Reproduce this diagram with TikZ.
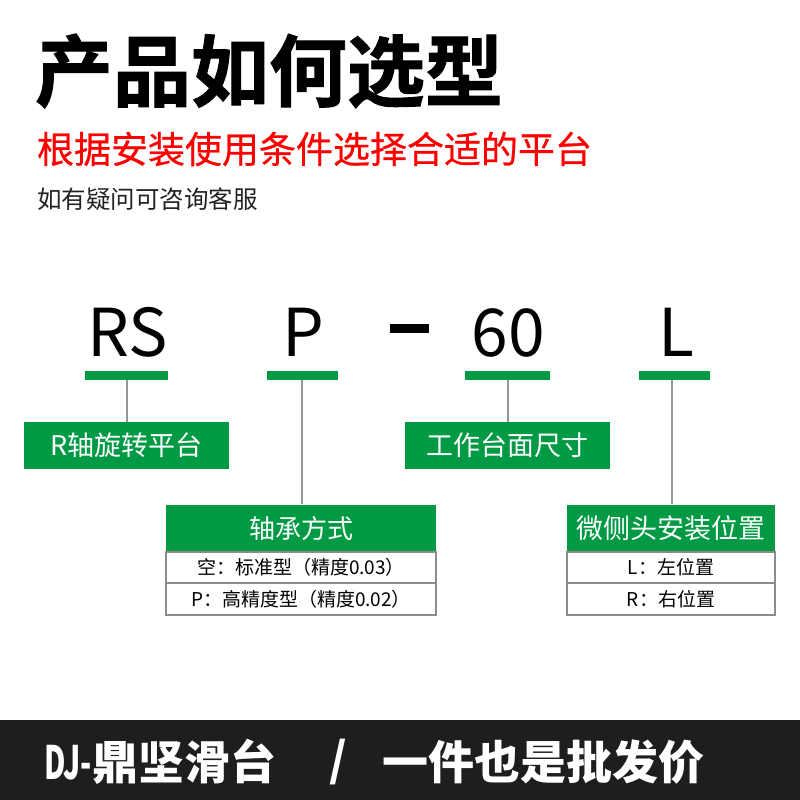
\documentclass[tikz,border=0pt]{standalone}
\usepackage{fontspec}
\setmainfont{Noto Sans CJK SC}
\newfontfamily\cjk{Noto Sans CJK SC}
\newfontfamily\cjkmed[FakeBold=0.6]{Noto Sans CJK SC}
\newfontfamily\cjkheavy[FakeBold=1.2]{Noto Sans CJK SC Bold}
\definecolor{dgreen}{RGB}{0,153,68}
\definecolor{lgray}{RGB}{150,150,150}
\definecolor{bgray}{RGB}{140,140,140}
\definecolor{footbg}{RGB}{30,30,30}
\definecolor{sred}{RGB}{255,0,0}
\definecolor{txtdark}{RGB}{34,34,34}
\begin{document}
\begin{tikzpicture}[x=1pt,y=-1pt,
  every node/.style={inner sep=0pt, outer sep=0pt},
  bar/.style={fill=dgreen, minimum height=9pt},
  gbox/.style={fill=dgreen, text=white, font=\cjk\fontsize{27}{27}\selectfont},
  rowbox/.style={draw=bgray, line width=2pt, fill=white, font=\cjk\fontsize{19}{19}\selectfont, text=black},
  conn/.style={draw=lgray, line width=2pt},
  code/.style={anchor=base, font=\cjk\fontsize{66}{66}\selectfont, text=black},
  foot/.style={text=white, font=\cjk\bfseries\fontsize{46}{46}\selectfont}]
\useasboundingbox (0,0) rectangle (800,800);
\fill[white] (0,0) rectangle (800,800);

% titles
\node[anchor=west, font=\cjkheavy\fontsize{78}{78}\selectfont] (title) at (35,71) {产品如何选型};
\node[anchor=west, text=sred, font=\cjkmed\fontsize{37}{37}\selectfont] (sub) at (37,149) {根据安装使用条件选择合适的平台};
\node[anchor=west, text=txtdark, font=\cjk\fontsize{24.5}{24.5}\selectfont] (ask) at (37,199) {如有疑问可咨询客服};

% model code
\node[code] (cRS) at (127.5,356) {RS};
\node[code] (cP) at (303,356) {P};
\node[fill=black, minimum width=39pt, minimum height=9pt] (cdash) at (409.5,328.5) {};
\node[code] (c60) at (508,356) {60};
\node[code] (cL) at (676,356) {L};

% green bars
\node[bar, minimum width=83pt] (b1) at (126.5,375.5) {};
\node[bar, minimum width=71pt] (b2) at (302.5,375.5) {};
\node[bar, minimum width=85pt] (b3) at (507.5,375.5) {};
\node[bar, minimum width=71pt] (b4) at (674.5,375.5) {};

% label boxes
\node[gbox, minimum width=205pt, minimum height=47pt] (r1) at (126.5,445.5) {R轴旋转平台};
\node[gbox, minimum width=205pt, minimum height=47pt] (r3) at (507.5,445.5) {工作台面尺寸};

% table 1
\node[gbox, font=\cjk\fontsize{26}{26}\selectfont, minimum width=270pt, minimum height=47pt] (t1h) at (301,528.5) {轴承方式};
\node[rowbox, minimum width=270pt, minimum height=32pt] (t1a) at (301,567.5) {空：标准型（精度0.03）};
\node[rowbox, minimum width=270pt, minimum height=32pt] (t1b) at (301,599) {P：高精度型（精度0.02）};

% table 2
\node[gbox, minimum width=208pt, minimum height=47pt] (t2h) at (671,528.5) {微侧头安装位置};
\node[rowbox, minimum width=208pt, minimum height=32pt] (t2a) at (671,567.5) {L：左位置};
\node[rowbox, minimum width=208pt, minimum height=32pt] (t2b) at (671,599) {R：右位置};

% connectors
\draw[conn] (r1.north -| 127,0) -- (127,380);
\draw[conn] (b2.south -| 302,0) -- (302,504);
\draw[conn] (b3.south) -- (r3.north);
\draw[conn] (b4.south -| 672,0) -- (672,504);

% footer
\fill[footbg] (0,720) rectangle (800,800);
\node[anchor=west, foot] (f1) at (44,762) {\scalebox{0.64}[1]{DJ-}鼎坚滑台};
\node[foot] (f2) at (338,762) {/};
\node[anchor=west, foot] (f3) at (382,762) {一件也是批发价};
\end{tikzpicture}
\end{document}
